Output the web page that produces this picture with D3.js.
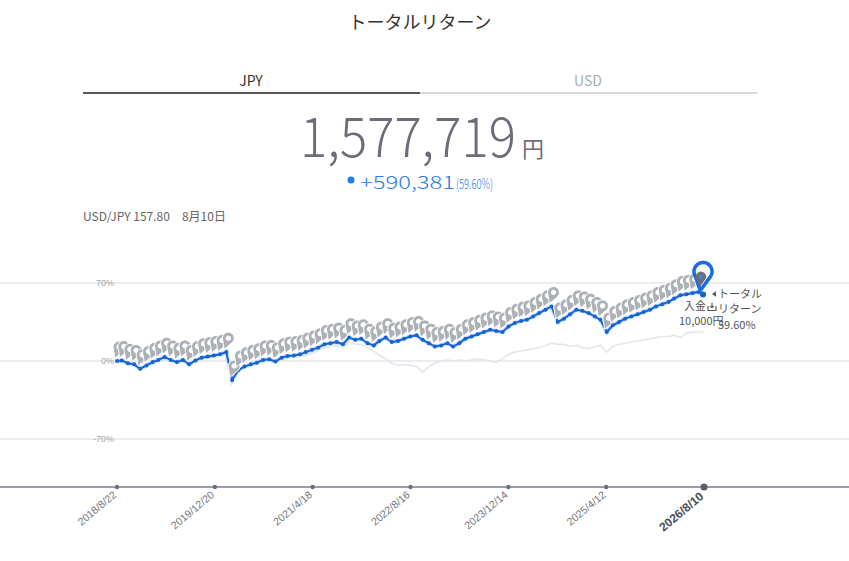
<!DOCTYPE html>
<html>
<head>
<meta charset="utf-8">
<script src="https://cdn.jsdelivr.net/npm/d3@7"></script>
<style>
body { margin: 0; background: #fff; }
svg { font-family: "Noto Sans CJK JP", "Noto Sans", sans-serif; display: block; }
</style>
</head>
<body>
<div class="container"></div>
<script>
// monthly points (deposit dates) with total return in % (JPY) and in USD terms
const dates = [
  "2018-08-22","2018-09-15","2018-10-15","2018-11-15","2018-12-15",
  "2019-01-15","2019-02-15","2019-03-15","2019-04-15","2019-05-15","2019-06-15","2019-07-15","2019-08-15","2019-09-15","2019-10-15","2019-11-15","2019-12-15",
  "2020-01-15","2020-02-15","2020-03-15","2020-04-15","2020-05-15","2020-06-15","2020-07-15","2020-08-15","2020-09-15","2020-10-15","2020-11-15","2020-12-15",
  "2021-01-15","2021-02-15","2021-03-15","2021-04-15","2021-05-15","2021-06-15","2021-07-15","2021-08-15","2021-09-15","2021-10-15","2021-11-15","2021-12-15",
  "2022-01-15","2022-02-15","2022-03-15","2022-04-15","2022-05-15","2022-06-15","2022-07-15","2022-08-15","2022-09-15","2022-10-15","2022-11-15","2022-12-15",
  "2023-01-15","2023-02-15","2023-03-15","2023-04-15","2023-05-15","2023-06-15","2023-07-15","2023-08-15","2023-09-15","2023-10-15","2023-11-15","2023-12-15",
  "2024-01-15","2024-02-15","2024-03-15","2024-04-15","2024-05-15","2024-06-15","2024-07-15","2024-08-15","2024-09-15","2024-10-15","2024-11-15","2024-12-15",
  "2025-01-15","2025-02-15","2025-03-15","2025-04-15","2025-05-15","2025-06-15","2025-07-15","2025-08-15","2025-09-15","2025-10-15","2025-11-15","2025-12-15",
  "2026-01-15","2026-02-15","2026-03-15","2026-04-15","2026-05-15","2026-06-15","2026-07-15","2026-08-10"
];

const jpyReturn = [
  0, 0.5, -2, -3, -7,
  -4, -1, 1, 3.5, 1, -1, 1, -3, 0.5, 3, 4, 5,
  6, 8, -17, -8, -5, -3, -1.5, 1, 1.5, -0.5, 3, 4.5,
  5, 6, 8, 10, 12, 15, 16, 17, 15, 21, 19, 20,
  16, 14, 18, 21, 17, 18, 20, 22, 23, 19, 16, 13,
  14, 16, 13, 16, 20, 22, 24, 26, 28, 27, 26, 31,
  34, 36, 37, 40, 43, 46, 49, 35, 38, 42, 46, 45,
  43, 40, 37, 26, 32, 35, 38, 40, 42, 44, 46, 49,
  51, 53, 56, 59, 60, 61, 62, 59.6
];

const usdReturn = [
  -0.5, 0, -2.5, -3.5, -8,
  -5, -2, 0, 2.5, 0, -2, 0, -3, -0.5, 2, 3, 4,
  5, 7, -17, -9, -6, -4, -3, -1, 0, -2, 1, 3,
  4, 4, 5, 7, 9, 12, 13, 14, 12, 17, 15, 15,
  12, 9, 5, 2, -2, -4, -3, -4, -5, -10, -5, -2,
  0, 1, 0, 1, 0, 1, 2, 1, 0, -1.5, 2, 6,
  8, 9, 10, 11, 12, 14, 16, 15, 15, 13, 14, 12,
  11, 13, 14, 8, 13, 15, 16, 17, 18, 19, 20, 21,
  22, 22, 23, 21, 25, 26, 26, 26
];

const tickDates = ["2018-08-22","2019-12-20","2021-04-18","2022-08-16","2023-12-14","2025-04-12","2026-08-10"];
const yTicks = [-70, 0, 70];

const titleText = "トータルリターン";
const tabs = ["JPY", "USD"];
const totalValue = "1,577,719";
const gainValue = "+590,381";
const gainPct = "(59.60%)";
const fxText = "USD/JPY 157.80\u30008月10日";
const depositLabel = "入金";
const depositAmount = "10,000円";
const returnLabel = ["トータル", "リターン"];
const lastReturnText = "59.60%";

const width = 849;
const height = 561;
const parse = d3.timeParse("%Y-%m-%d");
const fmt = d3.timeFormat("%Y/%-m/%-d");

const data = dates.map((d, i) => ({ date: parse(d), jpy: jpyReturn[i], usd: usdReturn[i] }));
const ticks = tickDates.map(parse);

const svg = d3.select("div.container")
    .append("svg")
    .attr("width", width)
    .attr("height", height);

// header
svg.append("text").attr("x", 420).attr("y", 29).attr("text-anchor", "middle")
    .attr("font-size", 18).attr("fill", "#333").text(titleText);

const tabX = [251, 588];
svg.selectAll("text.tab").data(tabs).enter().append("text")
    .attr("class", "tab")
    .attr("x", (d, i) => tabX[i]).attr("y", 86)
    .attr("text-anchor", "middle").attr("font-size", 14)
    .attr("fill", (d, i) => i === 0 ? "#333" : "#a9acb3")
    .text(d => d);
svg.append("line").attr("x1", 420).attr("x2", 757).attr("y1", 93).attr("y2", 93)
    .attr("stroke", "#b0b2b8").attr("stroke-width", 1);
svg.append("line").attr("x1", 83).attr("x2", 420).attr("y1", 93).attr("y2", 93)
    .attr("stroke", "#222").attr("stroke-width", 1.5);

svg.append("text").attr("x", 300).attr("y", 157)
    .attr("font-size", 55).attr("font-weight", 300).attr("fill", "#6b6e79")
    .attr("textLength", 216).attr("lengthAdjust", "spacingAndGlyphs")
    .text(totalValue);
svg.append("text").attr("x", 522).attr("y", 157)
    .attr("font-size", 22).attr("fill", "#6b6e79").text("円");

svg.append("circle").attr("cx", 351).attr("cy", 180).attr("r", 3.5).attr("fill", "#1f7ce8");
svg.append("text").attr("x", 360).attr("y", 189)
    .attr("font-size", 18).attr("font-weight", 300).attr("fill", "#2a7de6")
    .attr("textLength", 95).attr("lengthAdjust", "spacingAndGlyphs")
    .text(gainValue);
svg.append("text").attr("x", 456).attr("y", 189)
    .attr("font-size", 14).attr("font-weight", 300).attr("fill", "#2a7de6")
    .attr("textLength", 37).attr("lengthAdjust", "spacingAndGlyphs")
    .text(gainPct);

svg.append("text").attr("x", 83).attr("y", 221)
    .attr("font-size", 12).attr("fill", "#666").text(fxText);

// scales
const x = d3.scaleTime().domain([ticks[0], ticks[ticks.length - 1]]).range([117, 704]);
const y = d3.scaleLinear().domain([-70, 70]).range([439, 283]);

// grid
svg.append("g").selectAll("line").data(yTicks).enter().append("line")
    .attr("x1", 0).attr("x2", width)
    .attr("y1", d => y(d)).attr("y2", d => y(d))
    .attr("stroke", "#ebecef").attr("stroke-width", 2);

const yAxis = svg.append("g").attr("transform", "translate(114,0)")
    .call(d3.axisLeft(y).tickValues(yTicks).tickSize(0).tickPadding(0).tickFormat(d => d + "%"));
yAxis.select(".domain").remove();
yAxis.selectAll("text").attr("font-size", 9).attr("fill", "#a3a6ad").attr("font-family", "Liberation Sans, Arial, sans-serif");

// x axis
svg.append("line").attr("x1", 0).attr("x2", width).attr("y1", 487).attr("y2", 487)
    .attr("stroke", "#9c9ea5").attr("stroke-width", 2);
const xAxis = svg.append("g").attr("transform", "translate(0,487)")
    .call(d3.axisBottom(x).tickValues(ticks).tickSize(0).tickFormat(fmt));
xAxis.select(".domain").remove();
xAxis.selectAll("text")
    .attr("transform", "rotate(-40)")
    .attr("text-anchor", "end")
    .attr("x", -6).attr("y", 3).attr("dy", "0.35em")
    .attr("font-family", "Liberation Sans, Arial, sans-serif")
    .attr("font-size", 10.5).attr("fill", "#73767e");
xAxis.selectAll(".tick").filter((d, i) => i === ticks.length - 1).select("text")
    .attr("font-size", 12).attr("font-weight", "bold").attr("fill", "#4a4e57")
    .attr("x", -7).attr("y", 4);
svg.append("g").selectAll("circle").data(ticks).enter().append("circle")
    .attr("cx", d => x(d)).attr("cy", 487)
    .attr("r", (d, i) => i === ticks.length - 1 ? 3.5 : 2.2)
    .attr("fill", (d, i) => i === ticks.length - 1 ? "#5a5e68" : "#6b6f78");

// lines
const usdLine = d3.line().x(d => x(d.date)).y(d => y(d.usd));
const jpyLine = d3.line().x(d => x(d.date)).y(d => y(d.jpy));

svg.append("path").datum(data).attr("d", usdLine)
    .attr("fill", "none").attr("stroke", "#e3e6ec").attr("stroke-width", 1.6);
svg.append("path").datum(data).attr("d", jpyLine)
    .attr("fill", "none").attr("stroke", "#d3e2f8").attr("stroke-width", 4.5);
svg.append("path").datum(data).attr("d", jpyLine)
    .attr("fill", "none").attr("stroke", "#1464d6").attr("stroke-width", 2);
svg.append("g").selectAll("circle").data(data).enter().append("circle")
    .attr("cx", d => x(d.date)).attr("cy", d => y(d.jpy)).attr("r", 2)
    .attr("fill", "#1464d6");

// deposit pins
const pinPath = "M0,12 L-4.6,3.9 A6,6 0 1,1 4.6,3.9 Z";
const pins = svg.append("g").selectAll("g").data(data.slice(0, -1)).enter().append("g")
    .attr("transform", d => `translate(${x(d.date) + 2},${y(d.jpy) - 14}) rotate(20)`);
pins.append("path").attr("d", pinPath)
    .attr("fill", "#adb0b6").attr("stroke", "#fff").attr("stroke-width", 0.9);
pins.append("circle").attr("r", 2.6).attr("fill", "#fff");

// current point
const last = data[data.length - 1];
const lx = x(last.date), ly = y(last.jpy);
svg.append("path").attr("d", "M0,19 L-7.9,4.2 A9,9 0 1,1 7.9,4.2 Z")
    .attr("transform", `translate(${lx - 1},${ly - 23}) rotate(8)`)
    .attr("fill", "#fff").attr("stroke", "#1a6fe0").attr("stroke-width", 3.5)
    .attr("stroke-linejoin", "round");
const cur = svg.append("g").attr("transform", `translate(${lx - 3},${ly - 18}) rotate(5)`);
cur.append("path").attr("d", "M0,10 L-4.3,2.6 A5,5 0 1,1 4.3,2.6 Z").attr("fill", "#6b6e75");
cur.append("circle").attr("r", 1.8).attr("fill", "#3b8cf0");
svg.append("circle").attr("cx", lx - 1).attr("cy", ly).attr("r", 3).attr("fill", "#1464d6");

// end labels
const lab = svg.append("g").attr("font-size", 11).attr("fill", "#555");
lab.append("path").attr("d", "M712,294 L716,291.3 L716,296.7 Z").attr("fill", "#555");
lab.append("text").attr("x", 718).attr("y", 298).text(returnLabel[0]);
lab.append("text").attr("x", 718).attr("y", 313).text(returnLabel[1]);
lab.append("text").attr("x", 718).attr("y", 329).text(lastReturnText);
lab.append("text").attr("x", 684).attr("y", 310).text(depositLabel);
lab.append("path").attr("d", "M708,306 v4.5 h8 v-4.5 M712,302.5 v5 M710.3,305.8 l1.7,1.9 l1.7,-1.9")
    .attr("fill", "none").attr("stroke", "#555").attr("stroke-width", 1.1);
lab.append("text").attr("x", 679).attr("y", 325).text(depositAmount);
</script>
</body>
</html>
